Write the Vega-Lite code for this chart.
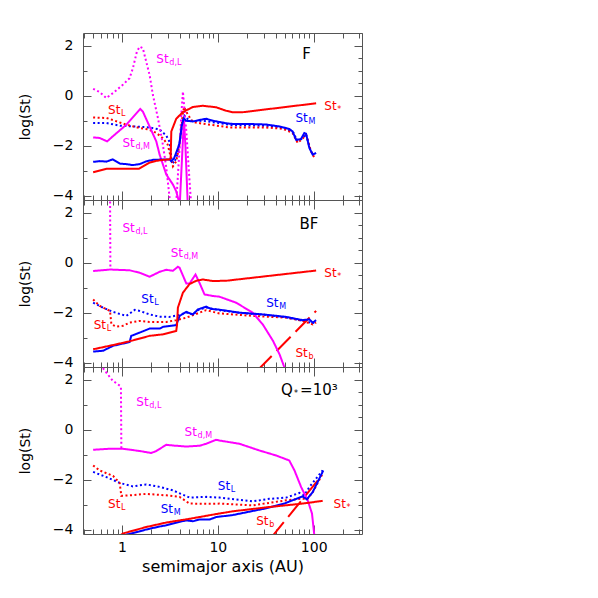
{
"$schema":"https://vega.github.io/schema/vega-lite/v6.json",
"padding":{"left":18,"top":32,"right":5,"bottom":5},
"spacing":0,
"bounds":"flush",
"config":{"view":{"stroke":null},"axis":{"domainColor":"#555","tickColor":"#555","labelFont":"DejaVu Sans","labelFontSize":14,"labelColor":"#000","titleFont":"DejaVu Sans","titleFontSize":14,"titleFontWeight":"normal","titleColor":"#000","grid":false,"labelFlush":false,"labelOverlap":false,"domainWidth":1,"tickWidth":1},"text":{"font":"DejaVu Sans"}},
"datasets":{
"lines":[
{"p":"F","s":"SLblue","x":0.5,"y":-1.09},{"p":"F","s":"SLblue","x":0.69,"y":-1.09},{"p":"F","s":"SLblue","x":0.95,"y":-1.2},{"p":"F","s":"SLblue","x":1.5,"y":-1.24},{"p":"F","s":"SLblue","x":1.94,"y":-1.27},{"p":"F","s":"SLblue","x":2.47,"y":-1.35},{"p":"F","s":"SLblue","x":2.9,"y":-1.6},{"p":"F","s":"SLblue","x":3.14,"y":-1.85},{"p":"F","s":"SLblue","x":3.3,"y":-2.6},{"p":"F","s":"SLblue","x":3.5,"y":-2.7},{"p":"F","s":"SLblue","x":3.9,"y":-2.2},{"p":"F","s":"SLblue","x":4.3,"y":-1.0},{"p":"F","s":"SLblue","x":4.5,"y":-0.8},{"p":"F","s":"SLblue","x":4.9,"y":-0.95},{"p":"F","s":"SLblue","x":5.5,"y":-1.02},{"p":"F","s":"SLblue","x":7,"y":-1.0},{"p":"F","s":"SLblue","x":14.3,"y":-1.18},{"p":"F","s":"SLblue","x":31.8,"y":-1.2},{"p":"F","s":"SLblue","x":50,"y":-1.28},{"p":"F","s":"SLblue","x":62,"y":-1.5},{"p":"F","s":"SLblue","x":67,"y":-1.8},{"p":"F","s":"SLblue","x":76,"y":-1.72},{"p":"F","s":"SLblue","x":83,"y":-1.53},{"p":"F","s":"SLblue","x":92,"y":-2.15},{"p":"F","s":"SLblue","x":100,"y":-2.42},
{"p":"F","s":"SLred","x":0.5,"y":-0.87},{"p":"F","s":"SLred","x":0.69,"y":-0.89},{"p":"F","s":"SLred","x":0.8,"y":-0.97},{"p":"F","s":"SLred","x":1.11,"y":-1.16},{"p":"F","s":"SLred","x":1.53,"y":-1.29},{"p":"F","s":"SLred","x":1.9,"y":-1.35},{"p":"F","s":"SLred","x":2.28,"y":-1.49},{"p":"F","s":"SLred","x":2.67,"y":-1.7},{"p":"F","s":"SLred","x":3.0,"y":-1.96},{"p":"F","s":"SLred","x":3.27,"y":-2.56},{"p":"F","s":"SLred","x":3.4,"y":-2.83},{"p":"F","s":"SLred","x":3.68,"y":-2.63},{"p":"F","s":"SLred","x":3.98,"y":-1.96},{"p":"F","s":"SLred","x":4.32,"y":-0.7},{"p":"F","s":"SLred","x":4.45,"y":-0.45},{"p":"F","s":"SLred","x":4.87,"y":-0.76},{"p":"F","s":"SLred","x":5.49,"y":-1.05},{"p":"F","s":"SLred","x":6.98,"y":-1.12},{"p":"F","s":"SLred","x":13.2,"y":-1.27},{"p":"F","s":"SLred","x":31.8,"y":-1.27},{"p":"F","s":"SLred","x":47.4,"y":-1.32},{"p":"F","s":"SLred","x":60.2,"y":-1.49},{"p":"F","s":"SLred","x":68,"y":-1.89},{"p":"F","s":"SLred","x":76.4,"y":-1.72},{"p":"F","s":"SLred","x":83.2,"y":-1.56},{"p":"F","s":"SLred","x":93.8,"y":-2.23},{"p":"F","s":"SLred","x":101,"y":-2.47},
{"p":"F","s":"SdL","x":0.5,"y":0.28},{"p":"F","s":"SdL","x":0.585,"y":0.15},{"p":"F","s":"SdL","x":0.687,"y":-0.09},{"p":"F","s":"SdL","x":0.806,"y":0.11},{"p":"F","s":"SdL","x":1.02,"y":0.44},{"p":"F","s":"SdL","x":1.2,"y":0.71},{"p":"F","s":"SdL","x":1.3,"y":1.11},{"p":"F","s":"SdL","x":1.43,"y":1.77},{"p":"F","s":"SdL","x":1.53,"y":1.97},{"p":"F","s":"SdL","x":1.65,"y":1.91},{"p":"F","s":"SdL","x":1.79,"y":1.37},{"p":"F","s":"SdL","x":1.94,"y":0.84},{"p":"F","s":"SdL","x":2.1,"y":0.04},{"p":"F","s":"SdL","x":2.37,"y":-0.89},{"p":"F","s":"SdL","x":2.67,"y":-1.96},{"p":"F","s":"SdL","x":2.9,"y":-2.89},{"p":"F","s":"SdL","x":3.14,"y":-4.1},{"p":"F","s":"SdL","x":3.2,"y":-4.5},{"p":"F","s":"SdL","x":3.6,"y":-4.5},{"p":"F","s":"SdL","x":3.69,"y":-4.2},{"p":"F","s":"SdL","x":3.99,"y":-2.1},{"p":"F","s":"SdL","x":4.16,"y":-0.75},{"p":"F","s":"SdL","x":4.32,"y":0.17},{"p":"F","s":"SdL","x":4.69,"y":-1.43},{"p":"F","s":"SdL","x":5.07,"y":-3.43},{"p":"F","s":"SdL","x":5.3,"y":-4.5},
{"p":"F","s":"SdM","x":0.5,"y":-1.67},{"p":"F","s":"SdM","x":0.585,"y":-1.69},{"p":"F","s":"SdM","x":0.7,"y":-1.83},{"p":"F","s":"SdM","x":0.8,"y":-1.63},{"p":"F","s":"SdM","x":1.11,"y":-1.16},{"p":"F","s":"SdM","x":1.55,"y":-0.53},{"p":"F","s":"SdM","x":1.65,"y":-0.63},{"p":"F","s":"SdM","x":1.94,"y":-1.23},{"p":"F","s":"SdM","x":2.28,"y":-1.83},{"p":"F","s":"SdM","x":2.47,"y":-2.36},{"p":"F","s":"SdM","x":2.9,"y":-3.16},{"p":"F","s":"SdM","x":3.4,"y":-3.56},{"p":"F","s":"SdM","x":3.68,"y":-3.83},{"p":"F","s":"SdM","x":3.93,"y":-4.25},{"p":"F","s":"SdM","x":3.99,"y":-4.5},{"p":"F","s":"SdM","x":4.43,"y":-0.9},{"p":"F","s":"SdM","x":4.6,"y":-2.1},{"p":"F","s":"SdM","x":4.87,"y":-4.5},
{"p":"F","s":"SM","x":0.5,"y":-2.65},{"p":"F","s":"SM","x":0.585,"y":-2.62},{"p":"F","s":"SM","x":0.69,"y":-2.64},{"p":"F","s":"SM","x":0.8,"y":-2.55},{"p":"F","s":"SM","x":0.95,"y":-2.72},{"p":"F","s":"SM","x":1.1,"y":-2.74},{"p":"F","s":"SM","x":1.3,"y":-2.78},{"p":"F","s":"SM","x":1.53,"y":-2.74},{"p":"F","s":"SM","x":1.79,"y":-2.63},{"p":"F","s":"SM","x":2.1,"y":-2.57},{"p":"F","s":"SM","x":2.47,"y":-2.56},{"p":"F","s":"SM","x":3.14,"y":-2.55},{"p":"F","s":"SM","x":3.27,"y":-2.63},{"p":"F","s":"SM","x":3.5,"y":-2.5},{"p":"F","s":"SM","x":3.83,"y":-2.1},{"p":"F","s":"SM","x":3.98,"y":-1.9},{"p":"F","s":"SM","x":4.2,"y":-1.2},{"p":"F","s":"SM","x":4.42,"y":-0.9},{"p":"F","s":"SM","x":4.67,"y":-1.0},{"p":"F","s":"SM","x":5.49,"y":-1.03},{"p":"F","s":"SM","x":6.43,"y":-0.97},{"p":"F","s":"SM","x":7.55,"y":-0.92},{"p":"F","s":"SM","x":8.87,"y":-1.0},{"p":"F","s":"SM","x":12.2,"y":-1.1},{"p":"F","s":"SM","x":14.3,"y":-1.13},{"p":"F","s":"SM","x":21.3,"y":-1.13},{"p":"F","s":"SM","x":31.8,"y":-1.15},{"p":"F","s":"SM","x":43.9,"y":-1.23},{"p":"F","s":"SM","x":55.6,"y":-1.33},{"p":"F","s":"SM","x":60.2,"y":-1.43},{"p":"F","s":"SM","x":65.4,"y":-1.76},{"p":"F","s":"SM","x":73.5,"y":-1.74},{"p":"F","s":"SM","x":79.9,"y":-1.49},{"p":"F","s":"SM","x":83.2,"y":-1.52},{"p":"F","s":"SM","x":90.1,"y":-2.09},{"p":"F","s":"SM","x":97.6,"y":-2.36},{"p":"F","s":"SM","x":106,"y":-2.29},
{"p":"F","s":"Sstar","x":0.5,"y":-3.07},{"p":"F","s":"Sstar","x":0.69,"y":-2.93},{"p":"F","s":"Sstar","x":1.5,"y":-2.93},{"p":"F","s":"Sstar","x":1.94,"y":-2.68},{"p":"F","s":"Sstar","x":2.28,"y":-2.61},{"p":"F","s":"Sstar","x":2.67,"y":-2.57},{"p":"F","s":"Sstar","x":3.14,"y":-2.55},{"p":"F","s":"Sstar","x":3.22,"y":-2.5},{"p":"F","s":"Sstar","x":3.27,"y":-1.43},{"p":"F","s":"Sstar","x":3.68,"y":-0.92},{"p":"F","s":"Sstar","x":4.32,"y":-0.65},{"p":"F","s":"Sstar","x":5.49,"y":-0.45},{"p":"F","s":"Sstar","x":6.98,"y":-0.4},{"p":"F","s":"Sstar","x":9.6,"y":-0.46},{"p":"F","s":"Sstar","x":12.2,"y":-0.6},{"p":"F","s":"Sstar","x":14.3,"y":-0.66},{"p":"F","s":"Sstar","x":18,"y":-0.66},{"p":"F","s":"Sstar","x":106,"y":-0.3},
{"p":"BF","s":"SLblue","x":0.5,"y":-1.6},{"p":"BF","s":"SLblue","x":0.634,"y":-1.8},{"p":"BF","s":"SLblue","x":0.806,"y":-1.97},{"p":"BF","s":"SLblue","x":1.11,"y":-2.13},{"p":"BF","s":"SLblue","x":1.36,"y":-1.89},{"p":"BF","s":"SLblue","x":1.53,"y":-1.93},{"p":"BF","s":"SLblue","x":1.94,"y":-2.07},{"p":"BF","s":"SLblue","x":2.47,"y":-2.16},{"p":"BF","s":"SLblue","x":3.1,"y":-2.17},{"p":"BF","s":"SLblue","x":3.99,"y":-2.09},{"p":"BF","s":"SLblue","x":4.69,"y":-1.99},{"p":"BF","s":"SLblue","x":5.49,"y":-2.08},{"p":"BF","s":"SLblue","x":6.19,"y":-1.9},{"p":"BF","s":"SLblue","x":7.55,"y":-1.79},{"p":"BF","s":"SLblue","x":10.4,"y":-1.9},{"p":"BF","s":"SLblue","x":16.8,"y":-2.01},{"p":"BF","s":"SLblue","x":29.4,"y":-2.08},{"p":"BF","s":"SLblue","x":51.6,"y":-2.19},{"p":"BF","s":"SLblue","x":76.6,"y":-2.32},{"p":"BF","s":"SLblue","x":97.7,"y":-2.42},{"p":"BF","s":"SLblue","x":106,"y":-2.33},
{"p":"BF","s":"SLred","x":0.5,"y":-1.47},{"p":"BF","s":"SLred","x":0.585,"y":-1.73},{"p":"BF","s":"SLred","x":0.75,"y":-1.93},{"p":"BF","s":"SLred","x":0.775,"y":-2.47},{"p":"BF","s":"SLred","x":0.874,"y":-2.56},{"p":"BF","s":"SLred","x":1.02,"y":-2.53},{"p":"BF","s":"SLred","x":1.2,"y":-2.4},{"p":"BF","s":"SLred","x":1.53,"y":-2.33},{"p":"BF","s":"SLred","x":1.94,"y":-2.37},{"p":"BF","s":"SLred","x":2.9,"y":-2.37},{"p":"BF","s":"SLred","x":3.68,"y":-2.3},{"p":"BF","s":"SLred","x":4.69,"y":-2.2},{"p":"BF","s":"SLred","x":7.55,"y":-1.9},{"p":"BF","s":"SLred","x":10.4,"y":-2.03},{"p":"BF","s":"SLred","x":23.1,"y":-2.13},{"p":"BF","s":"SLred","x":51.6,"y":-2.2},{"p":"BF","s":"SLred","x":76.6,"y":-2.33},{"p":"BF","s":"SLred","x":97.7,"y":-2.47},{"p":"BF","s":"SLred","x":106,"y":-2.4},
{"p":"BF","s":"SdL","x":0.75,"y":3.0},{"p":"BF","s":"SdL","x":0.757,"y":-0.27},
{"p":"BF","s":"Sb","x":26,"y":-4.31},{"p":"BF","s":"Sb","x":106,"y":-1.93},
{"p":"BF","s":"SdM","x":0.5,"y":-0.33},{"p":"BF","s":"SdM","x":0.75,"y":-0.27},{"p":"BF","s":"SdM","x":1.2,"y":-0.3},{"p":"BF","s":"SdM","x":1.53,"y":-0.4},{"p":"BF","s":"SdM","x":1.94,"y":-0.56},{"p":"BF","s":"SdM","x":2.47,"y":-0.36},{"p":"BF","s":"SdM","x":2.9,"y":-0.28},{"p":"BF","s":"SdM","x":3.4,"y":-0.32},{"p":"BF","s":"SdM","x":3.83,"y":-0.16},{"p":"BF","s":"SdM","x":3.99,"y":-0.2},{"p":"BF","s":"SdM","x":4.69,"y":-0.83},{"p":"BF","s":"SdM","x":5.07,"y":-0.83},{"p":"BF","s":"SdM","x":5.85,"y":-0.47},{"p":"BF","s":"SdM","x":6.43,"y":-0.8},{"p":"BF","s":"SdM","x":7.26,"y":-1.27},{"p":"BF","s":"SdM","x":8.87,"y":-1.33},{"p":"BF","s":"SdM","x":10.4,"y":-1.36},{"p":"BF","s":"SdM","x":15.5,"y":-1.6},{"p":"BF","s":"SdM","x":23.1,"y":-2.0},{"p":"BF","s":"SdM","x":29.4,"y":-2.47},{"p":"BF","s":"SdM","x":37.6,"y":-3.13},{"p":"BF","s":"SdM","x":44,"y":-3.67},{"p":"BF","s":"SdM","x":49.5,"y":-4.2},{"p":"BF","s":"SdM","x":52,"y":-4.5},
{"p":"BF","s":"SM","x":0.5,"y":-3.56},{"p":"BF","s":"SM","x":0.634,"y":-3.53},{"p":"BF","s":"SM","x":0.806,"y":-3.33},{"p":"BF","s":"SM","x":1.2,"y":-3.18},{"p":"BF","s":"SM","x":1.25,"y":-2.93},{"p":"BF","s":"SM","x":1.53,"y":-2.8},{"p":"BF","s":"SM","x":1.94,"y":-2.64},{"p":"BF","s":"SM","x":2.47,"y":-2.64},{"p":"BF","s":"SM","x":2.67,"y":-2.57},{"p":"BF","s":"SM","x":3.68,"y":-2.5},{"p":"BF","s":"SM","x":3.99,"y":-2.13},{"p":"BF","s":"SM","x":4.69,"y":-1.97},{"p":"BF","s":"SM","x":5.49,"y":-2.07},{"p":"BF","s":"SM","x":6.19,"y":-1.87},{"p":"BF","s":"SM","x":7.55,"y":-1.76},{"p":"BF","s":"SM","x":8.5,"y":-1.85},{"p":"BF","s":"SM","x":10.4,"y":-1.88},{"p":"BF","s":"SM","x":16.8,"y":-2.0},{"p":"BF","s":"SM","x":29.4,"y":-2.07},{"p":"BF","s":"SM","x":51.6,"y":-2.17},{"p":"BF","s":"SM","x":76.6,"y":-2.3},{"p":"BF","s":"SM","x":90,"y":-2.27},{"p":"BF","s":"SM","x":97.7,"y":-2.4},{"p":"BF","s":"SM","x":106,"y":-2.3},
{"p":"BF","s":"Sstar","x":0.5,"y":-3.47},{"p":"BF","s":"Sstar","x":0.806,"y":-3.3},{"p":"BF","s":"Sstar","x":1.2,"y":-3.15},{"p":"BF","s":"Sstar","x":1.94,"y":-2.93},{"p":"BF","s":"Sstar","x":2.67,"y":-2.87},{"p":"BF","s":"Sstar","x":3.68,"y":-2.73},{"p":"BF","s":"Sstar","x":3.75,"y":-2.5},{"p":"BF","s":"Sstar","x":3.83,"y":-1.8},{"p":"BF","s":"Sstar","x":4.32,"y":-1.2},{"p":"BF","s":"Sstar","x":5.07,"y":-0.85},{"p":"BF","s":"Sstar","x":5.95,"y":-0.72},{"p":"BF","s":"Sstar","x":6.98,"y":-0.67},{"p":"BF","s":"Sstar","x":8.87,"y":-0.73},{"p":"BF","s":"Sstar","x":12.2,"y":-0.72},{"p":"BF","s":"Sstar","x":106,"y":-0.31},
{"p":"Q","s":"SLblue","x":0.5,"y":-1.69},{"p":"Q","s":"SLblue","x":0.69,"y":-1.9},{"p":"Q","s":"SLblue","x":0.946,"y":-2.13},{"p":"Q","s":"SLblue","x":1.3,"y":-2.27},{"p":"Q","s":"SLblue","x":1.79,"y":-2.19},{"p":"Q","s":"SLblue","x":2.47,"y":-2.29},{"p":"Q","s":"SLblue","x":3.4,"y":-2.43},{"p":"Q","s":"SLblue","x":5.07,"y":-2.72},{"p":"Q","s":"SLblue","x":7.55,"y":-2.69},{"p":"Q","s":"SLblue","x":10.4,"y":-2.72},{"p":"Q","s":"SLblue","x":23.1,"y":-2.87},{"p":"Q","s":"SLblue","x":34.4,"y":-2.77},{"p":"Q","s":"SLblue","x":51.6,"y":-2.72},{"p":"Q","s":"SLblue","x":71,"y":-2.53},{"p":"Q","s":"SLblue","x":80,"y":-2.63},{"p":"Q","s":"SLblue","x":90,"y":-2.3},{"p":"Q","s":"SLblue","x":124,"y":-1.63},
{"p":"Q","s":"SLred","x":0.5,"y":-1.43},{"p":"Q","s":"SLred","x":0.585,"y":-1.63},{"p":"Q","s":"SLred","x":0.806,"y":-1.85},{"p":"Q","s":"SLred","x":0.946,"y":-2.13},{"p":"Q","s":"SLred","x":0.985,"y":-2.65},{"p":"Q","s":"SLred","x":1.2,"y":-2.63},{"p":"Q","s":"SLred","x":1.79,"y":-2.57},{"p":"Q","s":"SLred","x":2.9,"y":-2.63},{"p":"Q","s":"SLred","x":3.99,"y":-2.69},{"p":"Q","s":"SLred","x":5.07,"y":-2.96},{"p":"Q","s":"SLred","x":8.87,"y":-2.97},{"p":"Q","s":"SLred","x":10.4,"y":-2.96},{"p":"Q","s":"SLred","x":23.1,"y":-3.03},{"p":"Q","s":"SLred","x":51.6,"y":-2.83},{"p":"Q","s":"SLred","x":76.6,"y":-2.76},{"p":"Q","s":"SLred","x":85,"y":-2.8},{"p":"Q","s":"SLred","x":97.7,"y":-2.5},{"p":"Q","s":"SLred","x":124,"y":-1.76},
{"p":"Q","s":"SdL","x":0.55,"y":2.75},{"p":"Q","s":"SdL","x":0.61,"y":2.55},{"p":"Q","s":"SdL","x":0.8,"y":1.97},{"p":"Q","s":"SdL","x":0.95,"y":1.77},{"p":"Q","s":"SdL","x":0.975,"y":1.72},{"p":"Q","s":"SdL","x":0.985,"y":-0.76},
{"p":"Q","s":"Sb","x":36,"y":-4.33},{"p":"Q","s":"Sb","x":114,"y":-1.96},
{"p":"Q","s":"SdM","x":0.5,"y":-0.8},{"p":"Q","s":"SdM","x":0.744,"y":-0.76},{"p":"Q","s":"SdM","x":1.02,"y":-0.76},{"p":"Q","s":"SdM","x":1.53,"y":-0.85},{"p":"Q","s":"SdM","x":2.02,"y":-0.93},{"p":"Q","s":"SdM","x":2.28,"y":-0.85},{"p":"Q","s":"SdM","x":2.9,"y":-0.6},{"p":"Q","s":"SdM","x":3.4,"y":-0.63},{"p":"Q","s":"SdM","x":4.67,"y":-0.67},{"p":"Q","s":"SdM","x":6.43,"y":-0.64},{"p":"Q","s":"SdM","x":7.55,"y":-0.56},{"p":"Q","s":"SdM","x":9.6,"y":-0.4},{"p":"Q","s":"SdM","x":10.4,"y":-0.43},{"p":"Q","s":"SdM","x":16.8,"y":-0.56},{"p":"Q","s":"SdM","x":27.2,"y":-0.83},{"p":"Q","s":"SdM","x":40.5,"y":-1.03},{"p":"Q","s":"SdM","x":55.6,"y":-1.23},{"p":"Q","s":"SdM","x":63,"y":-1.63},{"p":"Q","s":"SdM","x":74,"y":-2.3},{"p":"Q","s":"SdM","x":86.6,"y":-2.83},{"p":"Q","s":"SdM","x":96,"y":-3.36},{"p":"Q","s":"SdM","x":101,"y":-4.16},{"p":"Q","s":"SdM","x":103,"y":-4.5},
{"p":"Q","s":"SM","x":1.0,"y":-4.3},{"p":"Q","s":"SM","x":1.12,"y":-4.2},{"p":"Q","s":"SM","x":1.5,"y":-4.08},{"p":"Q","s":"SM","x":1.79,"y":-4.0},{"p":"Q","s":"SM","x":2.47,"y":-3.88},{"p":"Q","s":"SM","x":2.9,"y":-3.83},{"p":"Q","s":"SM","x":3.4,"y":-3.76},{"p":"Q","s":"SM","x":4.69,"y":-3.63},{"p":"Q","s":"SM","x":5.49,"y":-3.67},{"p":"Q","s":"SM","x":6.43,"y":-3.6},{"p":"Q","s":"SM","x":8.2,"y":-3.6},{"p":"Q","s":"SM","x":9.6,"y":-3.5},{"p":"Q","s":"SM","x":14.3,"y":-3.42},{"p":"Q","s":"SM","x":31.8,"y":-3.15},{"p":"Q","s":"SM","x":50,"y":-2.95},{"p":"Q","s":"SM","x":76.6,"y":-2.67},{"p":"Q","s":"SM","x":84.8,"y":-2.79},{"p":"Q","s":"SM","x":97.6,"y":-2.5},{"p":"Q","s":"SM","x":126,"y":-1.63},
{"p":"Q","s":"Sstar","x":0.95,"y":-4.25},{"p":"Q","s":"Sstar","x":1.02,"y":-4.16},{"p":"Q","s":"Sstar","x":1.79,"y":-3.9},{"p":"Q","s":"Sstar","x":2.9,"y":-3.72},{"p":"Q","s":"Sstar","x":5.07,"y":-3.57},{"p":"Q","s":"Sstar","x":9.6,"y":-3.38},{"p":"Q","s":"Sstar","x":14.3,"y":-3.27},{"p":"Q","s":"Sstar","x":34,"y":-3.1},{"p":"Q","s":"Sstar","x":76.6,"y":-2.96},{"p":"Q","s":"Sstar","x":124,"y":-2.85}
],
"lab":[
{"p":"F","x":2.28,"y":1.47,"t":"St","sub":"d,L","s":"SdL"},
{"p":"F","x":0.715,"y":-0.56,"t":"St","sub":"L","s":"SLred"},
{"p":"F","x":1.01,"y":-1.9,"t":"St","sub":"d,M","s":"SdM"},
{"p":"F","x":64.5,"y":-0.91,"t":"St","sub":"M","s":"SM"},
{"p":"F","x":129,"y":-0.39,"t":"St","sub":"*","s":"Sstar"},
{"p":"F","x":76,"y":1.66,"t":"F","s":"K","big":true},
{"p":"BF","x":1.01,"y":1.4,"t":"St","sub":"d,L","s":"SdL"},
{"p":"BF","x":3.22,"y":0.4,"t":"St","sub":"d,M","s":"SdM"},
{"p":"BF","x":129,"y":-0.4,"t":"St","sub":"*","s":"Sstar"},
{"p":"BF","x":1.59,"y":-1.47,"t":"St","sub":"L","s":"SLblue"},
{"p":"BF","x":31.9,"y":-1.6,"t":"St","sub":"M","s":"SM"},
{"p":"BF","x":0.507,"y":-2.49,"t":"St","sub":"L","s":"SLred"},
{"p":"BF","x":64.5,"y":-3.6,"t":"St","sub":"b","s":"Sb"},
{"p":"BF","x":71,"y":1.55,"t":"BF","s":"K","big":true},
{"p":"Q","x":45.7,"y":1.61,"t":"Q","sub":"*","post":"=10³","s":"K","big":true},
{"p":"Q","x":1.41,"y":1.11,"t":"St","sub":"d,L","s":"SdL"},
{"p":"Q","x":4.5,"y":-0.07,"t":"St","sub":"d,M","s":"SdM"},
{"p":"Q","x":10,"y":-2.27,"t":"St","sub":"L","s":"SLblue"},
{"p":"Q","x":0.715,"y":-2.96,"t":"St","sub":"L","s":"SLred"},
{"p":"Q","x":2.53,"y":-3.19,"t":"St","sub":"M","s":"SM"},
{"p":"Q","x":25.1,"y":-3.67,"t":"St","sub":"b","s":"Sb"},
{"p":"Q","x":161,"y":-2.96,"t":"St","sub":"*","s":"Sstar"}
]},
"vconcat":[
{"width":279,"height":167,
"layer":[
{"data":{"name":"lines"},"transform":[{"filter":"datum.p=='F'"}],"mark":{"type":"line","strokeWidth":2,"clip":true},
"encoding":{
"x":{"field":"x","type":"quantitative","scale":{"type":"log","domain":[0.392,319],"nice":false},"axis":{"orient":"bottom","values":[0.4,0.5,0.6,0.7,0.8,0.9,1,2,3,4,5,6,7,8,9,10,20,30,40,50,60,70,80,90,100,200,300],"labels":false,"title":null,"minExtent":0,"maxExtent":0,"tickSize":{"condition":{"test":"datum.value==1||datum.value==10||datum.value==100","value":-9},"value":-5}}},
"y":{"field":"y","type":"quantitative","scale":{"domain":[-4.18,2.52],"nice":false,"zero":false},"axis":{"orient":"left","values":[-4,-3.5,-3,-2.5,-2,-1.5,-1,-0.5,0,0.5,1,1.5,2,2.5],"format":"d","labelExpr":"datum.value%2==0?datum.label:''","labelPadding":18,"tickSize":{"condition":{"test":"datum.value%2==0","value":-8},"value":-4},"title":"log(St)","titlePadding":20}},
"color":{"field":"s","type":"nominal","scale":{"domain":["SLblue","SLred","SdL","Sb","SdM","SM","Sstar","K"],"range":["#0000ff","#ff0000","#ff00ff","#ff0000","#ff00ff","#0000ff","#ff0000","#000000"]},"legend":null},
"strokeDash":{"field":"s","type":"nominal","scale":{"domain":["SLblue","SLred","SdL","Sb","SdM","SM","Sstar"],"range":[[2,2.5],[2,2.5],[2,2.5],[20,7],[1,0],[1,0],[1,0]]},"legend":null}}},
{"data":{"name":"lab"},"transform":[{"filter":"datum.p=='F' && !datum.big"}],"mark":{"type":"text","align":"left","baseline":"middle","fontSize":12},
"encoding":{
"x":{"field":"x","type":"quantitative","scale":{"type":"log","domain":[0.392,319],"nice":false},"axis":{"orient":"top","values":[0.4,0.5,0.6,0.7,0.8,0.9,1,2,3,4,5,6,7,8,9,10,20,30,40,50,60,70,80,90,100,200,300],"labels":false,"title":null,"minExtent":0,"maxExtent":0,"tickSize":{"condition":{"test":"datum.value==1||datum.value==10||datum.value==100","value":-9},"value":-5}}},
"y":{"field":"y","type":"quantitative","scale":{"domain":[-4.18,2.52],"nice":false,"zero":false},"axis":{"orient":"right","values":[-4,-3.5,-3,-2.5,-2,-1.5,-1,-0.5,0,0.5,1,1.5,2,2.5],"labels":false,"title":null,"minExtent":0,"maxExtent":0,"tickSize":{"condition":{"test":"datum.value%2==0","value":-8},"value":-4}}},
"text":{"field":"t"},
"color":{"field":"s","type":"nominal","legend":null}}},
{"data":{"name":"lab"},"transform":[{"filter":"datum.p=='F' && datum.sub"}],"mark":{"type":"text","align":"left","baseline":"middle","fontSize":8,"dx":13,"dy":4},
"encoding":{"x":{"field":"x","type":"quantitative","axis":null},"y":{"field":"y","type":"quantitative","axis":null},"text":{"field":"sub"},"color":{"field":"s","type":"nominal","legend":null}}},
{"data":{"name":"lab"},"transform":[{"filter":"datum.p=='F' && datum.big"}],"mark":{"type":"text","align":"left","baseline":"middle","fontSize":15},
"encoding":{"x":{"field":"x","type":"quantitative","axis":null},"y":{"field":"y","type":"quantitative","axis":null},"text":{"field":"t"},"color":{"field":"s","type":"nominal","legend":null}}}
],
"resolve":{"axis":{"x":"independent","y":"independent"}}},
{"width":279,"height":167,
"layer":[
{"data":{"name":"lines"},"transform":[{"filter":"datum.p=='BF'"}],"mark":{"type":"line","strokeWidth":2,"clip":true},
"encoding":{
"x":{"field":"x","type":"quantitative","scale":{"type":"log","domain":[0.392,319],"nice":false},"axis":{"orient":"bottom","values":[0.4,0.5,0.6,0.7,0.8,0.9,1,2,3,4,5,6,7,8,9,10,20,30,40,50,60,70,80,90,100,200,300],"labels":false,"title":null,"minExtent":0,"maxExtent":0,"tickSize":{"condition":{"test":"datum.value==1||datum.value==10||datum.value==100","value":-9},"value":-5}}},
"y":{"field":"y","type":"quantitative","scale":{"domain":[-4.18,2.52],"nice":false,"zero":false},"axis":{"orient":"left","values":[-4,-3.5,-3,-2.5,-2,-1.5,-1,-0.5,0,0.5,1,1.5,2,2.5],"format":"d","labelExpr":"datum.value%2==0?datum.label:''","labelPadding":18,"tickSize":{"condition":{"test":"datum.value%2==0","value":-8},"value":-4},"title":"log(St)","titlePadding":20}},
"color":{"field":"s","type":"nominal","scale":{"domain":["SLblue","SLred","SdL","Sb","SdM","SM","Sstar","K"],"range":["#0000ff","#ff0000","#ff00ff","#ff0000","#ff00ff","#0000ff","#ff0000","#000000"]},"legend":null},
"strokeDash":{"field":"s","type":"nominal","scale":{"domain":["SLblue","SLred","SdL","Sb","SdM","SM","Sstar"],"range":[[2,2.5],[2,2.5],[2,2.5],[20,7],[1,0],[1,0],[1,0]]},"legend":null}}},
{"data":{"name":"lab"},"transform":[{"filter":"datum.p=='BF' && !datum.big"}],"mark":{"type":"text","align":"left","baseline":"middle","fontSize":12},
"encoding":{
"x":{"field":"x","type":"quantitative","scale":{"type":"log","domain":[0.392,319],"nice":false},"axis":{"orient":"top","values":[0.4,0.5,0.6,0.7,0.8,0.9,1,2,3,4,5,6,7,8,9,10,20,30,40,50,60,70,80,90,100,200,300],"labels":false,"title":null,"minExtent":0,"maxExtent":0,"tickSize":{"condition":{"test":"datum.value==1||datum.value==10||datum.value==100","value":-9},"value":-5}}},
"y":{"field":"y","type":"quantitative","scale":{"domain":[-4.18,2.52],"nice":false,"zero":false},"axis":{"orient":"right","values":[-4,-3.5,-3,-2.5,-2,-1.5,-1,-0.5,0,0.5,1,1.5,2,2.5],"labels":false,"title":null,"minExtent":0,"maxExtent":0,"tickSize":{"condition":{"test":"datum.value%2==0","value":-8},"value":-4}}},
"text":{"field":"t"},
"color":{"field":"s","type":"nominal","legend":null}}},
{"data":{"name":"lab"},"transform":[{"filter":"datum.p=='BF' && datum.sub"}],"mark":{"type":"text","align":"left","baseline":"middle","fontSize":8,"dx":13,"dy":4},
"encoding":{"x":{"field":"x","type":"quantitative","axis":null},"y":{"field":"y","type":"quantitative","axis":null},"text":{"field":"sub"},"color":{"field":"s","type":"nominal","legend":null}}},
{"data":{"name":"lab"},"transform":[{"filter":"datum.p=='BF' && datum.big"}],"mark":{"type":"text","align":"left","baseline":"middle","fontSize":15},
"encoding":{"x":{"field":"x","type":"quantitative","axis":null},"y":{"field":"y","type":"quantitative","axis":null},"text":{"field":"t"},"color":{"field":"s","type":"nominal","legend":null}}}
],
"resolve":{"axis":{"x":"independent","y":"independent"}}},
{"width":279,"height":167,
"layer":[
{"data":{"name":"lines"},"transform":[{"filter":"datum.p=='Q'"}],"mark":{"type":"line","strokeWidth":2,"clip":true},
"encoding":{
"x":{"field":"x","type":"quantitative","scale":{"type":"log","domain":[0.392,319],"nice":false},"axis":{"orient":"bottom","values":[0.4,0.5,0.6,0.7,0.8,0.9,1,2,3,4,5,6,7,8,9,10,20,30,40,50,60,70,80,90,100,200,300],"format":"d","labelExpr":"datum.value==1||datum.value==10||datum.value==100?datum.label:''","labelPadding":15,"title":"semimajor axis (AU)","titleFontSize":16,"titlePadding":0,"tickSize":{"condition":{"test":"datum.value==1||datum.value==10||datum.value==100","value":-9},"value":-5}}},
"y":{"field":"y","type":"quantitative","scale":{"domain":[-4.18,2.52],"nice":false,"zero":false},"axis":{"orient":"left","values":[-4,-3.5,-3,-2.5,-2,-1.5,-1,-0.5,0,0.5,1,1.5,2,2.5],"format":"d","labelExpr":"datum.value%2==0?datum.label:''","labelPadding":18,"tickSize":{"condition":{"test":"datum.value%2==0","value":-8},"value":-4},"title":"log(St)","titlePadding":20}},
"color":{"field":"s","type":"nominal","scale":{"domain":["SLblue","SLred","SdL","Sb","SdM","SM","Sstar","K"],"range":["#0000ff","#ff0000","#ff00ff","#ff0000","#ff00ff","#0000ff","#ff0000","#000000"]},"legend":null},
"strokeDash":{"field":"s","type":"nominal","scale":{"domain":["SLblue","SLred","SdL","Sb","SdM","SM","Sstar"],"range":[[2,2.5],[2,2.5],[2,2.5],[20,7],[1,0],[1,0],[1,0]]},"legend":null}}},
{"data":{"name":"lab"},"transform":[{"filter":"datum.p=='Q' && !datum.big"}],"mark":{"type":"text","align":"left","baseline":"middle","fontSize":12},
"encoding":{
"x":{"field":"x","type":"quantitative","scale":{"type":"log","domain":[0.392,319],"nice":false},"axis":{"orient":"top","values":[0.4,0.5,0.6,0.7,0.8,0.9,1,2,3,4,5,6,7,8,9,10,20,30,40,50,60,70,80,90,100,200,300],"labels":false,"title":null,"minExtent":0,"maxExtent":0,"tickSize":{"condition":{"test":"datum.value==1||datum.value==10||datum.value==100","value":-9},"value":-5}}},
"y":{"field":"y","type":"quantitative","scale":{"domain":[-4.18,2.52],"nice":false,"zero":false},"axis":{"orient":"right","values":[-4,-3.5,-3,-2.5,-2,-1.5,-1,-0.5,0,0.5,1,1.5,2,2.5],"labels":false,"title":null,"minExtent":0,"maxExtent":0,"tickSize":{"condition":{"test":"datum.value%2==0","value":-8},"value":-4}}},
"text":{"field":"t"},
"color":{"field":"s","type":"nominal","legend":null}}},
{"data":{"name":"lab"},"transform":[{"filter":"datum.p=='Q' && datum.sub"}],"mark":{"type":"text","align":"left","baseline":"middle","fontSize":8,"dx":13,"dy":4},
"encoding":{"x":{"field":"x","type":"quantitative","axis":null},"y":{"field":"y","type":"quantitative","axis":null},"text":{"field":"sub"},"color":{"field":"s","type":"nominal","legend":null}}},
{"data":{"name":"lab"},"transform":[{"filter":"datum.p=='Q' && datum.big"}],"mark":{"type":"text","align":"left","baseline":"middle","fontSize":15},
"encoding":{"x":{"field":"x","type":"quantitative","axis":null},"y":{"field":"y","type":"quantitative","axis":null},"text":{"field":"t"},"color":{"field":"s","type":"nominal","legend":null}}},
{"data":{"name":"lab"},"transform":[{"filter":"datum.p=='Q' && datum.post"}],"mark":{"type":"text","align":"left","baseline":"middle","fontSize":15,"dx":19},
"encoding":{"x":{"field":"x","type":"quantitative","axis":null},"y":{"field":"y","type":"quantitative","axis":null},"text":{"field":"post"},"color":{"field":"s","type":"nominal","legend":null}}}
],
"resolve":{"axis":{"x":"independent","y":"independent"}}}
]
}
